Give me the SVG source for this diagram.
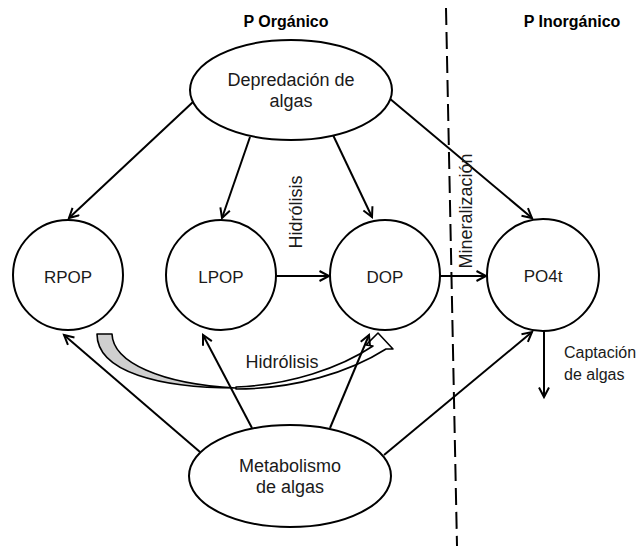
<svg xmlns="http://www.w3.org/2000/svg" width="643" height="546" viewBox="0 0 643 546">
  <style>
    .node { fill: #ffffff; stroke: #000000; stroke-width: 2; }
    .lbl { font-family: "Liberation Sans", Arial, sans-serif; font-size: 18px; fill: #1a1a1a; text-anchor: middle; }
    .small { font-size: 16px; text-anchor: start; }
    .title { font-family: "Liberation Sans", Arial, sans-serif; font-size: 16px; font-weight: bold; fill: #000000; text-anchor: middle; }
    .edge { fill: none; stroke: #000000; stroke-width: 2; marker-end: url(#head); }
  </style>
  <defs>
    <marker id="head" markerUnits="userSpaceOnUse" markerWidth="14" markerHeight="14" refX="11" refY="6" orient="auto">
      <path d="M1.5,1 L11,6 L1.5,11" fill="none" stroke="#000000" stroke-width="2"/>
    </marker>
  </defs>

  <rect width="643" height="546" fill="#ffffff"/>

  <!-- section titles and divider -->
  <text class="title" x="286" y="27">P Orgánico</text>
  <text class="title" x="572" y="27">P Inorgánico</text>
  <line x1="446" y1="8" x2="457" y2="546" stroke="#000000" stroke-width="2" stroke-dasharray="17 7"/>

  <!-- curved hydrolysis arrow RPOP -> DOP -->
  <g id="hydrolysis-arrow" stroke="#000000" stroke-width="1.6" stroke-linejoin="round">
    <path d="M97,334 L112,334 C113,362 160,384 236,388 C160,388 97,372 97,334 Z" fill="#cfcfcf"/>
    <path d="M236,389 C295,389 350,372 386,349 L393,349 L378,333 L366,345 L373,346 C340,368 290,385 236,387 Z" fill="#ffffff"/>
  </g>

  <!-- connectors -->
  <g id="connectors">
    <line class="edge" x1="193" y1="102" x2="69" y2="218"/>
    <line class="edge" x1="250" y1="137" x2="222" y2="218"/>
    <line class="edge" x1="333" y1="135" x2="372" y2="217"/>
    <line class="edge" x1="389" y1="98" x2="532" y2="218"/>
    <line class="edge" x1="276" y1="276" x2="329" y2="276"/>
    <line class="edge" x1="440" y1="276" x2="486" y2="276"/>
    <line class="edge" x1="200" y1="452" x2="64" y2="335"/>
    <line class="edge" x1="252" y1="428" x2="203" y2="335"/>
    <line class="edge" x1="330" y1="428" x2="369" y2="335"/>
    <line class="edge" x1="384" y1="455" x2="532" y2="332"/>
    <line class="edge" x1="544" y1="331" x2="544" y2="397"/>
  </g>

  <!-- edge labels -->
  <text class="lbl" transform="translate(302,212) rotate(-90)">Hidrólisis</text>
  <text class="lbl" transform="translate(472,211) rotate(-90)">Mineralización</text>
  <text class="lbl" x="282" y="368">Hidrólisis</text>
  <text class="lbl small" x="564" y="358">Captación</text>
  <text class="lbl small" x="564" y="380">de algas</text>

  <!-- nodes -->
  <g id="depredacion">
    <ellipse class="node" cx="291" cy="90" rx="101" ry="50"/>
    <text class="lbl" x="291" y="86">Depredación de</text>
    <text class="lbl" x="291" y="107">algas</text>
  </g>
  <g id="rpop">
    <circle class="node" cx="68" cy="275" r="55"/>
    <text class="lbl" x="68" y="283" style="font-size:17px">RPOP</text>
  </g>
  <g id="lpop">
    <circle class="node" cx="221" cy="275" r="55"/>
    <text class="lbl" x="221" y="283" style="font-size:17px">LPOP</text>
  </g>
  <g id="dop">
    <circle class="node" cx="385" cy="275" r="55"/>
    <text class="lbl" x="385" y="283" style="font-size:17px">DOP</text>
  </g>
  <g id="po4t">
    <circle class="node" cx="543" cy="275" r="56"/>
    <text class="lbl" x="543" y="282" style="font-size:17px">PO4t</text>
  </g>
  <g id="metabolismo">
    <ellipse class="node" cx="290" cy="476" rx="101" ry="51"/>
    <text class="lbl" x="290" y="472">Metabolismo</text>
    <text class="lbl" x="290" y="493">de algas</text>
  </g>
</svg>
